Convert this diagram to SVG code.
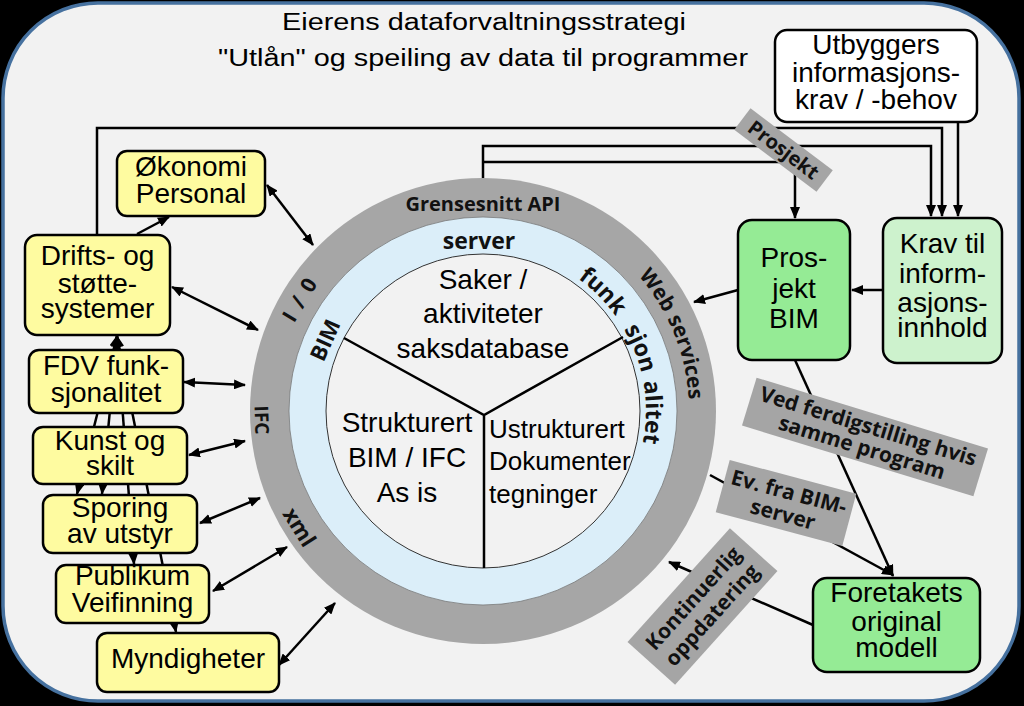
<svg xmlns="http://www.w3.org/2000/svg" width="1024" height="706" viewBox="0 0 1024 706">
<style>
.box{stroke:#000;stroke-width:2.5}
.yel{fill:#fefba0}
.grn{fill:#95eb95}
.lgr{fill:#cdf2cd}
.wht{fill:#fff}
.t{font-family:"Liberation Sans",Arial,sans-serif;font-size:28px;fill:#000;text-anchor:middle}
.lab{fill:#a5a5a5}
.lt{font-family:"Open Sans","Liberation Sans",sans-serif;font-weight:bold;font-size:21px;fill:#111;text-anchor:middle}
.rt{font-family:"Open Sans","Liberation Sans",sans-serif;font-weight:bold;fill:#111;text-anchor:middle}
.c{fill:none;stroke:#000;stroke-width:2.5}
</style>
<defs>
<marker id="ah" viewBox="0 0 12 10" refX="11" refY="5" markerWidth="12" markerHeight="10" markerUnits="userSpaceOnUse" orient="auto-start-reverse"><path d="M0,0 L12,5 L0,10 z" fill="#000"/></marker>
<path id="arcWeb" d="M601.2,242.2 A206,206 0 0,1 682.0,464.3" fill="none"/>
<path id="arcFunk" d="M551.9,263.3 A163,163 0 0,1 636.2,466.7" fill="none"/>
</defs>
<rect x="0" y="0" width="1024" height="706" fill="#000"/>
<rect x="3" y="3" width="1016" height="698" rx="95" ry="95" fill="#f2f2f2" stroke="#46719f" stroke-width="3.5"/>

<g id="title">
<text class="t" x="484" y="30" textLength="404" lengthAdjust="spacingAndGlyphs" style="font-size:23px">Eierens dataforvaltningsstrategi</text>
<text class="t" x="483" y="66" style="font-size:23px" textLength="530" lengthAdjust="spacingAndGlyphs">"Utlån" og speiling av data til programmer</text>
</g>

<g id="connectors">
<path class="c" d="M97,235 V128 H942 V216" marker-end="url(#ah)"/>
<path class="c" d="M483,178 V146 H931 V216" marker-end="url(#ah)"/>
<path class="c" d="M483,162 H795 V218" marker-end="url(#ah)"/>
<path class="c" d="M958,122 V216" marker-end="url(#ah)"/>
<path class="c" d="M883,290 H852" marker-end="url(#ah)"/>
<path class="c" d="M738,290 L694,302" marker-end="url(#ah)"/>
<path class="c" d="M795,360 L893,576" marker-end="url(#ah)"/>
<path class="c" d="M710,475 L893,575" marker-end="url(#ah)"/>
<path class="c" d="M813,625 L669,562" marker-end="url(#ah)"/>
<path class="c" d="M267,185 L313,245" marker-start="url(#ah)" marker-end="url(#ah)"/>
<path class="c" d="M172,287 L258,330" marker-start="url(#ah)" marker-end="url(#ah)"/>
<path class="c" d="M184,382 L245,385" marker-start="url(#ah)" marker-end="url(#ah)"/>
<path class="c" d="M189,455 L245,441" marker-start="url(#ah)" marker-end="url(#ah)"/>
<path class="c" d="M200,523 L260,498" marker-start="url(#ah)" marker-end="url(#ah)"/>
<path class="c" d="M213,591 L287,547" marker-start="url(#ah)" marker-end="url(#ah)"/>
<path class="c" d="M279,665 L335,603" marker-start="url(#ah)" marker-end="url(#ah)"/>
<path class="c" d="M137,234 L169,217" marker-end="url(#ah)"/>
<path class="c" d="M117,336 L77,494" marker-start="url(#ah)" marker-end="url(#ah)"/>
<path class="c" d="M117,336 L102,494" marker-start="url(#ah)" marker-end="url(#ah)"/>
<path class="c" d="M117,336 L134,564" marker-start="url(#ah)" marker-end="url(#ah)"/>
<path class="c" d="M117,336 L176,632" marker-start="url(#ah)" marker-end="url(#ah)"/>
</g>

<g id="hub">
<circle cx="483" cy="411" r="233" fill="#a6a6a6"/>
<circle cx="483" cy="411" r="194" fill="#dbeef9" stroke="#777" stroke-width="0.8"/>
<circle cx="483" cy="411" r="157" fill="#f2f2f2" stroke="#333" stroke-width="1"/>
<path d="M344,338 L484,415 L623,337 M484,415 V568" fill="none" stroke="#000" stroke-width="2.5"/>
<text class="rt" x="483" y="211" style="font-size:20px">Grensesnitt API</text>
<text class="rt" x="479" y="249" style="font-size:23px">server</text>
<text class="rt" style="font-size:21px" transform="translate(300,300) rotate(-59)" y="7" word-spacing="4">I / 0</text>
<text class="rt" style="font-size:22px" transform="translate(325,340) rotate(-66)" y="8">BIM</text>
<text class="rt" style="font-size:19px" transform="translate(262,420) rotate(88)" y="7">IFC</text>
<text class="rt" style="font-size:22px" transform="translate(298,528) rotate(58)" y="6">xml</text>
<text class="rt" style="font-size:21px"><textPath href="#arcWeb" startOffset="73">Web</textPath></text>
<text class="rt" style="font-size:21px"><textPath href="#arcWeb" startOffset="144">services</textPath></text>
<text class="rt" style="font-size:23px"><textPath href="#arcFunk" startOffset="57">funk</textPath></text>
<text class="rt" style="font-size:23px"><textPath href="#arcFunk" startOffset="123">sjon</textPath></text>
<text class="rt" style="font-size:23px"><textPath href="#arcFunk" startOffset="186">alitet</textPath></text>
<text class="t" x="483" y="289">Saker /</text>
<text class="t" x="483" y="323">aktiviteter</text>
<text class="t" x="483" y="358">saksdatabase</text>
<text class="t" x="407" y="432">Strukturert</text>
<text class="t" x="407" y="467">BIM / IFC</text>
<text class="t" x="407" y="502">As is</text>
<text class="t" x="489" y="438" style="font-size:26px;text-anchor:start">Ustrukturert</text>
<text class="t" x="489" y="470" style="font-size:26px;text-anchor:start">Dokumenter</text>
<text class="t" x="489" y="503" style="font-size:26px;text-anchor:start">tegninger</text>
</g>

<g id="okonomi"><rect class="box yel" x="117" y="151" width="148" height="65" rx="10"/>
<text class="t" x="191" y="176">Økonomi</text><text class="t" x="191" y="203">Personal</text></g>
<g id="drifts"><rect class="box yel" x="25" y="235" width="145" height="100" rx="12"/>
<text class="t" x="97.5" y="265">Drifts- og</text><text class="t" x="97.5" y="293">støtte-</text><text class="t" x="97.5" y="318">systemer</text></g>
<g id="fdv"><rect class="box yel" x="29" y="350" width="154" height="63" rx="10"/>
<text class="t" x="106" y="375">FDV funk-</text><text class="t" x="106" y="402">sjonalitet</text></g>
<g id="kunst"><rect class="box yel" x="33" y="427" width="154" height="57" rx="10"/>
<text class="t" x="110" y="450">Kunst og</text><text class="t" x="110" y="475">skilt</text></g>
<g id="sporing"><rect class="box yel" x="43" y="495" width="154" height="58" rx="10"/>
<text class="t" x="120" y="517">Sporing</text><text class="t" x="120" y="543">av utstyr</text></g>
<g id="publikum"><rect class="box yel" x="56" y="565" width="153" height="58" rx="10"/>
<text class="t" x="132.5" y="585">Publikum</text><text class="t" x="132.5" y="612">Veifinning</text></g>
<g id="myndigheter"><rect class="box yel" x="97" y="633" width="182" height="59" rx="10"/>
<text class="t" x="188" y="668">Myndigheter</text></g>

<g id="utbyggers"><rect class="box wht" x="775" y="30" width="202" height="92" rx="12"/>
<text class="t" x="876" y="54">Utbyggers</text><text class="t" x="876" y="82">informasjons-</text><text class="t" x="876" y="109">krav / -behov</text></g>
<g id="prosjektbim"><rect class="box grn" x="738" y="220" width="112" height="140" rx="14"/>
<text class="t" x="794" y="267">Pros-</text><text class="t" x="794" y="298">jekt</text><text class="t" x="794" y="328">BIM</text></g>
<g id="krav"><rect class="box lgr" x="883" y="218" width="119" height="145" rx="14"/>
<text class="t" x="942.5" y="253">Krav til</text><text class="t" x="942.5" y="283">inform-</text><text class="t" x="942.5" y="312">asjons-</text><text class="t" x="942.5" y="337">innhold</text></g>
<g id="foretakets"><rect class="box grn" x="813" y="578" width="167" height="94" rx="14"/>
<text class="t" x="896.5" y="602">Foretakets</text><text class="t" x="896.5" y="631">original</text><text class="t" x="896.5" y="657">modell</text></g>

<g id="label-prosjekt" transform="translate(783.5,150) rotate(37)"><rect class="lab" x="-51.5" y="-13.5" width="103" height="27"/>
<text class="lt" y="7" style="font-size:20px">Prosjekt</text></g>
<g id="label-ved" transform="translate(865,437) rotate(17)"><rect class="lab" x="-121" y="-25" width="242" height="50"/>
<text class="lt" y="-4">Ved ferdigstilling hvis</text><text class="lt" y="18">samme program</text></g>
<g id="label-ev" transform="translate(786,503) rotate(15)"><rect class="lab" x="-65.5" y="-27" width="131" height="54"/>
<text class="lt" y="-4">Ev. fra BIM-</text><text class="lt" y="19">server</text></g>
<g id="label-kont" transform="translate(702.5,606.5) rotate(-48)"><rect class="lab" x="-76.5" y="-32" width="153" height="64"/>
<text class="lt" y="-5">Kontinuerlig</text><text class="lt" y="20">oppdatering</text></g>
</svg>
